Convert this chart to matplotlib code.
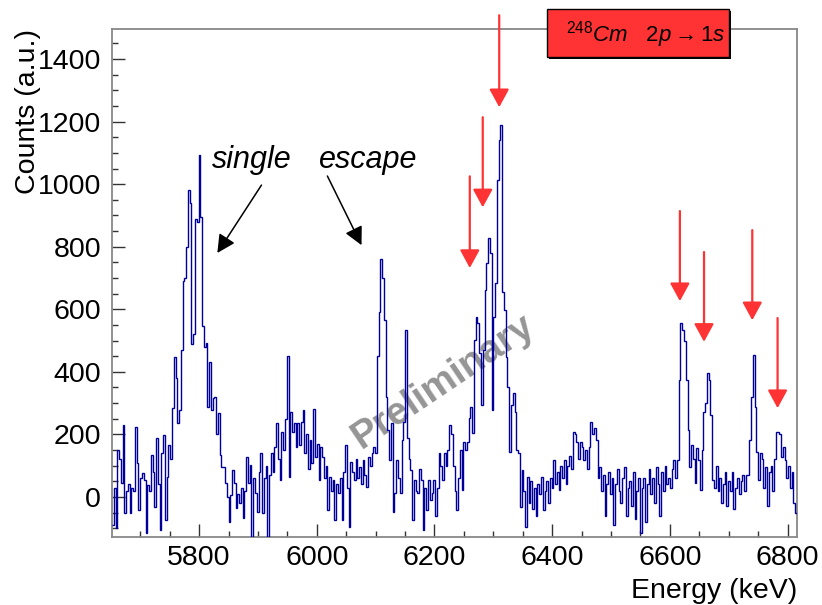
import matplotlib

matplotlib.use("Agg")

import matplotlib.pyplot as plt
import numpy as np
from matplotlib.patches import ArrowStyle, Rectangle
from matplotlib.ticker import MultipleLocator

plt.rcParams["font.family"] = ["Liberation Sans", "DejaVu Sans"]
plt.rcParams["mathtext.fontset"] = "custom"
plt.rcParams["mathtext.rm"] = "Liberation Sans"
plt.rcParams["mathtext.it"] = "Liberation Sans:italic"

# histogram: 3 keV bins starting at 5652 keV
E_START = 5652
BIN_W = 3
counts = [
    -90, 30, -100, 150, 120, 45, 230, -52, 20, 40, -50, 30, 20, 225, 110, -42, 60, 77, 54, -115,        # 5652
    38, 20, 134, 80, -31, 188, 40, -105, 140, 198, -73, 65, 166, 120, 284, 448, 380, 236, 278, 470,      # 5712
    690, 700, 800, 980, 940, 490, 520, 890, 880, 1092, 895, 545, 480, 491, 288, 430, 278, 316, 320, 200,  # 5772
    268, 134, 97, 97, 45, 0, -79, 6, 86, 45, -36, 10, -20, 30, -68, 20, 129, 45, 102, -140,             # 5832
    60, 13, -47, 80, 140, -52, 60, 100, -140, 70, 140, 80, 161, 236, 120, 54, 209, 150, 250, 450,        # 5892
    65, 272, 209, 236, 160, 236, 166, 240, 278, 140, 200, 90, 182, 110, 281, 129, 170, 54, 161, 129,     # 5952
    60, 100, -42, 65, 20, 54, -73, 40, 13, 60, -73, 80, 166, 30, -95, 113, 80, 54, 120, 60,              # 6012
    97, 40, 118, 70, 33, 129, 100, 140, 160, 140, 450, 592, 760, 700, 565, 320, 214, 118, 236, -47,      # 6072
    13, 118, 60, 13, 182, 240, 533, 188, 120, 86, -73, 54, 20, 13, 90, 54, -105, 30, -42, 54,            # 6132
    -10, 13, 54, -60, 30, 140, 100, 55, 140, 100, 150, 230, 200, 100, 20, -42, 60, 150, 22, 177,         # 6192
    150, 177, 252, 288, 204, 502, 576, 555, 460, 294, 470, 661, 747, 827, 779, 278, 576, 683, 1012, 1140,  # 6252
    1188, 656, 597, 448, 352, 145, 294, 332, 272, 150, 140, -31, 86, 20, -95, 65, -20, 50, -40, 30,      # 6312
    -60, 40, 10, 65, -42, 20, 50, -20, 60, 30, 118, 40, 80, 22, 100, 60, 118, 40, 100, 130,              # 6372
    90, 209, 200, 177, 120, 177, 160, 118, 150, 90, 160, 241, 200, 220, 182, 60, 96, 20, 70, -60,        # 6432
    40, 80, 10, 60, -90, 40, 90, 20, -20, 60, 96, -60, 30, 50, -30, 80, -70, 20, 60, -115,               # 6492
    30, 60, -80, 40, 90, 10, 60, -20, 96, 40, -60, 80, 20, 100, 40, 60, 30, 90, 118, 60,                 # 6552
    118, 374, 555, 533, 500, 374, 214, 97, 166, 120, 45, 156, 118, 22, 150, 272, 300, 396, 374, 262,     # 6612
    54, 30, 100, 20, 60, -20, 40, 80, -30, 50, 20, 80, -40, 30, 60, 10, 50, 70, 20, 70,                  # 6672
    70, 182, 320, 454, 288, 145, 54, 140, 120, 30, 96, -30, 80, 100, 20, 120, 209, 209, 200, 129,        # 6732
    160, 118, 60, 100, 30, 80, -20, -52,                                                                 # 6792
]
edges = E_START + BIN_W * np.arange(len(counts) + 1)

# red markers: (energy, arrow top, arrow tip) in counts
peak_E = [6310, 6282, 6260, 6617, 6658, 6740, 6783]
arrow_top = [1540, 1214, 1025, 914, 783, 853, 572]
arrow_tip = [1246, 926, 732, 626, 496, 565, 284]

RED = "#ff3333"
BLUE = "#000099"
FS = 20.5

fig = plt.figure(figsize=(8.22, 6.05), dpi=100)
ax = fig.add_axes([112 / 822, 1 - 537 / 605, 685 / 822, 508 / 605])

ax.stairs(counts, edges, baseline=None, color=BLUE, lw=1.0, zorder=3)

ax.set_xlim(5652, 6816)
ax.set_ylim(-128, 1496)
ax.xaxis.set_major_locator(MultipleLocator(200))
ax.xaxis.set_minor_locator(MultipleLocator(50))
ax.yaxis.set_major_locator(MultipleLocator(200))
ax.yaxis.set_minor_locator(MultipleLocator(50))
ax.tick_params(which="both", direction="in", top=False, right=False, color="#333333", labelsize=FS)
ax.tick_params(which="major", length=9.5, width=1.0)
ax.tick_params(which="minor", length=4.5, width=1.0)
ax.tick_params(axis="x", pad=6)
ax.tick_params(axis="y", pad=8)
for sp in ax.spines.values():
    sp.set_color("#888888")
    sp.set_linewidth(1.3)

fig.text(28 / 822, 1 - 29 / 605, "Counts (a.u.)", rotation=90, ha="center", va="top", fontsize=FS)
fig.text(797 / 822, 1 - 598 / 605, "Energy (keV)", ha="right", va="baseline", fontsize=FS)

# watermark under the histogram
ax.text(6214, 367, "Preliminary", rotation=34, rotation_mode="anchor", ha="center", va="center",
        fontsize=28, fontweight="bold", color="#959595", zorder=1)

# annotations
ax.text(5822, 1077, "single", style="italic", fontsize=22, ha="left", va="center")
ax.text(6003, 1077, "escape", style="italic", fontsize=22, ha="left", va="center")
black_head = ArrowStyle("-|>", head_length=0.55, head_width=0.28)
ax.annotate("", xy=(5831, 780), xytext=(5906, 997),
            arrowprops=dict(arrowstyle=black_head, color="black", lw=1.1, mutation_scale=20, shrinkA=0, shrinkB=0))
ax.annotate("", xy=(6076, 805), xytext=(6018, 1026),
            arrowprops=dict(arrowstyle=black_head, color="black", lw=1.1, mutation_scale=20, shrinkA=0, shrinkB=0))

red_head = ArrowStyle("-|>", head_length=0.55, head_width=0.3)
for e, top, tip in zip(peak_E, arrow_top, arrow_tip):
    ax.annotate("", xy=(e, tip), xytext=(e, top), annotation_clip=False,
                arrowprops=dict(arrowstyle=red_head, color=RED, lw=1.6, mutation_scale=20,
                                shrinkA=0, shrinkB=0))

# label box with shadow
bx, by, bw, bh = 547 / 822, 1 - 56.5 / 605, 182 / 822, 47.5 / 605
fig.add_artist(Rectangle((bx + 2 / 822, by - 2 / 605), bw, bh, transform=fig.transFigure,
                         fc="black", ec="black", lw=0))
fig.add_artist(Rectangle((bx, by), bw, bh, transform=fig.transFigure, fc=RED, ec="black", lw=1.0))
fig.text(566 / 822, 1 - 35 / 605, r"${}^{248}\mathit{Cm}\ \ \ 2\mathit{p} \rightarrow 1\mathit{s}$",
         ha="left", va="center", fontsize=16)

fig.savefig("out.png", dpi=100)
